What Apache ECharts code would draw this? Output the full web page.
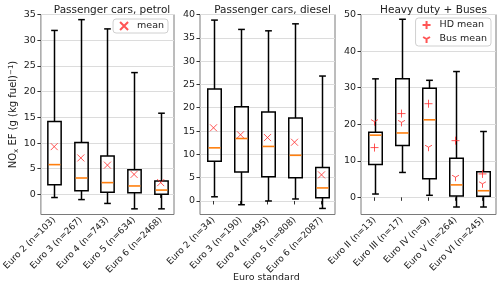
<!DOCTYPE html>
<html><head><meta charset="utf-8">
<script src="https://cdn.jsdelivr.net/npm/echarts@6/dist/echarts.min.js"></script>
<style>html,body{margin:0;padding:0;background:#fff}#c{width:500px;height:285px}</style>
</head><body><div id="c"></div>
<script>
const titles = ['Passenger cars, petrol', 'Passenger cars, diesel', 'Heavy duty + Buses'];
const catsPetrol = ['Euro 2 (n=103)', 'Euro 3 (n=267)', 'Euro 4 (n=743)', 'Euro 5 (n=634)', 'Euro 6 (n=2468)'];
const catsDiesel = ['Euro 2 (n=34)', 'Euro 3 (n=190)', 'Euro 4 (n=495)', 'Euro 5 (n=808)', 'Euro 6 (n=2087)'];
const catsHeavy = ['Euro II (n=13)', 'Euro III (n=17)', 'Euro IV (n=9)', 'Euro V (n=264)', 'Euro VI (n=245)'];

const petrolLow = [-0.6, -1.0, -1.75, -2.8, -2.8];
const petrolQ1 = [1.9, 0.7, 0.45, 0.35, 0.05];
const petrolMed = [5.8, 3.2, 2.3, 1.65, 0.85];
const petrolQ3 = [14.2, 10.1, 7.5, 4.8, 2.6];
const petrolHigh = [31.9, 34.0, 32.2, 23.7, 15.8];
const petrolMean = [9.3, 7.1, 5.7, 3.9, 2.3];

const dieselLow = [0.9, -0.8, 0.0, 0.43, -1.6];
const dieselQ1 = [8.5, 6.2, 5.2, 5.0, 0.7];
const dieselMed = [11.4, 13.4, 11.7, 9.8, 2.8];
const dieselQ3 = [24.0, 20.2, 19.1, 17.8, 7.2];
const dieselHigh = [38.8, 36.8, 36.5, 38.0, 26.8];
const dieselMean = [15.7, 14.2, 13.6, 12.6, 5.6];

const heavyLow = [0.9, 6.8, 0.55, -2.65, -2.65];
const heavyQ1 = [9.0, 14.2, 5.1, 0.37, 0.27];
const heavyMed = [17.0, 17.6, 21.2, 3.4, 1.8];
const heavyQ3 = [17.8, 32.4, 29.8, 10.7, 7.0];
const heavyHigh = [32.4, 48.7, 32.0, 34.4, 18.0];
const hdMean = [13.6, 22.9, 25.6, 15.5, 6.4];
const busMean = [20.7, 20.5, 13.7, 5.5, 3.7];

const yMins = [-3.9, -2.9, -4.7];
const yMaxs = [35, 40, 50];
const yTicks = [[0, 5, 10, 15, 20, 25, 30, 35], [0, 5, 10, 15, 20, 25, 30, 35, 40], [0, 10, 20, 30, 40, 50]];

const FONT = 'DejaVu Sans';
const grids = [
  {left: 40, top: 14.5, width: 134, height: 200},
  {left: 200, top: 14.5, width: 135, height: 200},
  {left: 361, top: 14.5, width: 135, height: 200}
];

function boxRows(lo, q1, med, q3, hi) {
  return lo.map((v, i) => [i, lo[i], q1[i], med[i], q3[i], hi[i]]);
}
function renderBox(params, api) {
  const i = api.value(0);
  const lo = api.coord([i, api.value(1)]);
  const q1 = api.coord([i, api.value(2)]);
  const md = api.coord([i, api.value(3)]);
  const q3 = api.coord([i, api.value(4)]);
  const hi = api.coord([i, api.value(5)]);
  const bw = api.size([1, 0])[0] * 0.5;
  const cx = Math.round(lo[0]) + 0.5;
  const st = {stroke: '#000', lineWidth: 1.5, fill: null};
  return {type: 'group', children: [
    {type: 'line', shape: {x1: cx, y1: q1[1], x2: cx, y2: lo[1]}, style: st},
    {type: 'line', shape: {x1: cx, y1: q3[1], x2: cx, y2: hi[1]}, style: st},
    {type: 'line', shape: {x1: cx - bw / 4, y1: lo[1], x2: cx + bw / 4, y2: lo[1]}, style: st},
    {type: 'line', shape: {x1: cx - bw / 4, y1: hi[1], x2: cx + bw / 4, y2: hi[1]}, style: st},
    {type: 'rect', shape: {x: cx - bw / 2, y: q3[1], width: bw, height: q1[1] - q3[1]}, style: st},
    {type: 'line', shape: {x1: cx - bw / 2 + 0.8, y1: md[1], x2: cx + bw / 2 - 0.8, y2: md[1]}, style: {stroke: '#ff7f0e', lineWidth: 1.6}}
  ]};
}

const X_SYM = 'path://M0,0L10,10M10,0L0,10';
const PLUS_SYM = 'path://M5,0L5,10M0,5L10,5';
const TRI_SYM = 'path://M0,0M10,10M5,5L5,10M5,5L0.67,2.5M5,5L9.33,2.5';
const RED = '#ff2a2a';

const cats = [catsPetrol, catsDiesel, catsHeavy];
const xAxes = cats.map((c, k) => ({
  type: 'category', gridIndex: k, data: c, boundaryGap: true,
  axisLine: {show: false},
  axisTick: {show: true, alignWithLabel: true, length: 3.5, lineStyle: {color: '#333', width: 1}},
  axisLabel: {rotate: 45, interval: 0, fontFamily: FONT, fontSize: 9, color: '#222', margin: 4},
  splitLine: {show: false}
}));
const yAxes = [0, 1, 2].map(k => ({
  type: 'value', gridIndex: k, min: yMins[k], max: yMaxs[k],
  axisLine: {show: false},
  axisTick: {show: true, length: 3.5, customValues: yTicks[k], lineStyle: {color: '#333', width: 1}},
  axisLabel: {customValues: yTicks[k], fontFamily: FONT, fontSize: 9.5, color: '#222', margin: 5},
  splitLine: {show: true, lineStyle: {color: '#dcdcdc', width: 1}},
  name: k === 0 ? 'NO{sub|x} EF (g (kg fuel){sup|−1})' : '',
  nameLocation: 'middle', nameGap: 21,
  nameTextStyle: {fontFamily: FONT, fontSize: 10, color: '#222',
    rich: {sub: {fontFamily: FONT, fontSize: 7, color: '#222', padding: [4, 0, 0, 0]},
           sup: {fontFamily: FONT, fontSize: 7, color: '#222', padding: [0, 0, 5, 0]}}}
}));

const series = [
  {type: 'custom', xAxisIndex: 0, yAxisIndex: 0, renderItem: renderBox, encode: {x: 0, y: [1, 2, 3, 4, 5]}, data: boxRows(petrolLow, petrolQ1, petrolMed, petrolQ3, petrolHigh), z: 2},
  {type: 'custom', xAxisIndex: 1, yAxisIndex: 1, renderItem: renderBox, encode: {x: 0, y: [1, 2, 3, 4, 5]}, data: boxRows(dieselLow, dieselQ1, dieselMed, dieselQ3, dieselHigh), z: 2},
  {type: 'custom', xAxisIndex: 2, yAxisIndex: 2, renderItem: renderBox, encode: {x: 0, y: [1, 2, 3, 4, 5]}, data: boxRows(heavyLow, heavyQ1, heavyMed, heavyQ3, heavyHigh), z: 2},
  {name: 'mean', type: 'scatter', xAxisIndex: 0, yAxisIndex: 0, symbol: X_SYM, symbolSize: 7,
   itemStyle: {color: 'rgba(0,0,0,0)', borderColor: RED, borderWidth: 1}, data: petrolMean.map((v, i) => [i, v]), z: 5},
  {name: 'mean', type: 'scatter', xAxisIndex: 1, yAxisIndex: 1, symbol: X_SYM, symbolSize: 7,
   itemStyle: {color: 'rgba(0,0,0,0)', borderColor: RED, borderWidth: 1}, data: dieselMean.map((v, i) => [i, v]), z: 5},
  {name: 'HD mean', type: 'scatter', xAxisIndex: 2, yAxisIndex: 2, symbol: PLUS_SYM, symbolSize: 8,
   itemStyle: {color: 'rgba(0,0,0,0)', borderColor: RED, borderWidth: 1}, data: hdMean.map((v, i) => [i, v]), z: 5},
  {name: 'Bus mean', type: 'scatter', xAxisIndex: 2, yAxisIndex: 2, symbol: TRI_SYM, symbolSize: 8,
   itemStyle: {color: 'rgba(0,0,0,0)', borderColor: RED, borderWidth: 1}, data: busMean.map((v, i) => [i, v]), z: 5}
];

const legendCommon = {
  backgroundColor: '#fff', borderColor: '#d0d0d0', borderWidth: 1, borderRadius: 3,
  itemWidth: 8, itemHeight: 8, itemGap: 4,
  textStyle: {fontFamily: FONT, fontSize: 9.5, color: '#222', padding: [0, 0, 0, 4]},
  selectedMode: false
};

const option = {
  animation: false,
  backgroundColor: '#fff',
  grid: grids.map(g => Object.assign({show: true, borderColor: '#7a7a7a', borderWidth: 1, backgroundColor: 'transparent'}, g)),
  title: titles.map((t, k) => ({
    text: t, left: grids[k].left + grids[k].width / 2, top: 0, textAlign: 'center',
    textStyle: {fontFamily: FONT, fontSize: 10.5, fontWeight: 'normal', color: '#222'}
  })),
  legend: [
    Object.assign({}, legendCommon, {data: ['mean'], right: 332, top: 19, padding: [2, 4, 2, 6]}),
    Object.assign({}, legendCommon, {data: ['HD mean', 'Bus mean'], orient: 'vertical', right: 9, top: 18, padding: [2, 4, 2, 6]})
  ],
  xAxis: xAxes,
  yAxis: yAxes,
  series: series,
  graphic: [{type: 'text', left: 233, top: 273, style: {text: 'Euro standard', fontFamily: FONT, fontSize: 9.5, fill: '#222'}}]
};
const chart = echarts.init(document.getElementById('c'), null, {renderer: 'canvas'});
chart.setOption(option);
</script></body></html>
